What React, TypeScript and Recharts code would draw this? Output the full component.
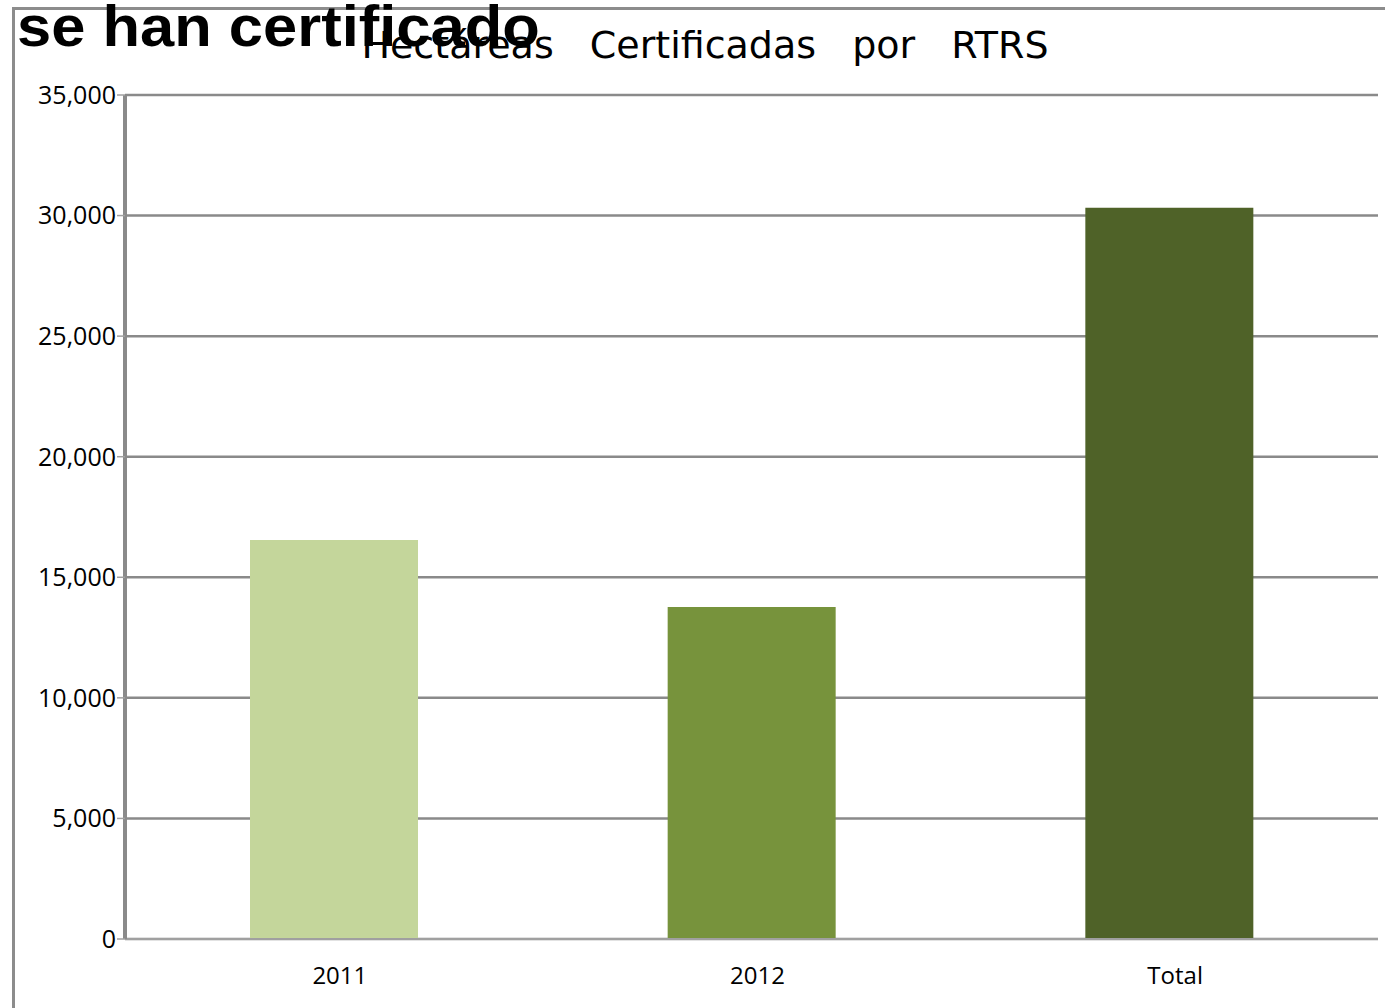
import { BarChart, Bar, XAxis, YAxis, CartesianGrid, Cell } from "recharts";

const categories = ["2011", "2012", "Total"];
const hectares = [16550, 13770, 30320];
const barColors = ["#C4D69B", "#77933C", "#4F6228"];
const yTicks = [0, 5000, 10000, 15000, 20000, 25000, 30000, 35000];

const data = categories.map((c, i) => ({ name: c, value: hectares[i] }));

const fmt = (v: number) => v.toLocaleString("en-US");

export default function App() {
  return (
    <div
      style={{
        position: "absolute",
        left: 0,
        top: 0,
        width: 1385,
        height: 1008,
        background: "#fff",
        overflow: "hidden",
      }}
    >
      {/* slide frame */}
      <div
        style={{
          position: "absolute",
          left: 12,
          top: 7,
          width: 1385,
          height: 1010,
          borderLeft: "3px solid #8c8c8c",
          borderTop: "3px solid #8c8c8c",
        }}
      />
      <BarChart
        width={1385}
        height={1008}
        data={data}
        margin={{ top: 95, right: 7, bottom: 0, left: 15 }}
        barSize={168}
      >
        <CartesianGrid
          vertical={false}
          stroke="#8a8a8a"
          strokeWidth={2.5}
          horizontalValues={yTicks}
        />
        <XAxis
          dataKey="name"
          height={69}
          axisLine={{ stroke: "#a0a0a0", strokeWidth: 2 }}
          tickLine={false}
          tick={{ fill: "#000", fontSize: 24, fontFamily: "Open Sans", dx: 6 }}
          tickMargin={22}
        />
        <YAxis
          width={110}
          domain={[0, 35000]}
          ticks={yTicks}
          tickFormatter={fmt}
          axisLine={{ stroke: "#8a8a8a", strokeWidth: 4 }}
          tickLine={{ stroke: "#a0a0a0", strokeWidth: 1.5 }}
          tickSize={8}
          tickMargin={1}
          tick={{ fill: "#000", fontSize: 25, fontFamily: "Open Sans" }}
        />
        <Bar dataKey="value" isAnimationActive={false}>
          {data.map((d, i) => (
            <Cell key={d.name} fill={barColors[i]} />
          ))}
        </Bar>
      </BarChart>
      <div
        style={{
          position: "absolute",
          left: 0,
          width: 1410,
          top: 18,
          textAlign: "center",
          fontFamily: "DejaVu Sans",
          fontSize: 38,
          lineHeight: "54px",
          wordSpacing: 24,
          color: "#000",
        }}
      >
        Hectáreas Certificadas por RTRS
      </div>
      <div
        style={{
          position: "absolute",
          left: 17,
          top: 0,
          fontFamily: "Liberation Sans",
          fontWeight: "bold",
          fontSize: 58,
          lineHeight: "52px",
          color: "#000",
          transform: "scaleX(1.06)",
          transformOrigin: "left top",
          whiteSpace: "nowrap",
        }}
      >
        se han certificado
      </div>
    </div>
  );
}
